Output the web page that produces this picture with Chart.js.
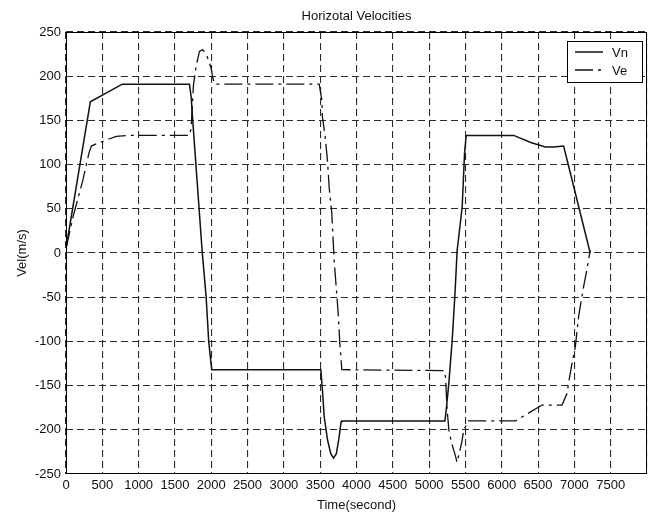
<!DOCTYPE html>
<html>
<head>
<meta charset="utf-8">
<title>Horizotal Velocities</title>
<script src="https://cdn.jsdelivr.net/npm/chart.js@4/dist/chart.umd.min.js"></script>
<style>
  html, body { margin: 0; padding: 0; background: #fff; }
  canvas { display: block; }
</style>
</head>
<body>
<canvas id="vel-chart" width="651" height="519"></canvas>
<script>
'use strict';

// Vn: north velocity (m/s) over time (s)
const vnTime = [0, 335, 775, 1700, 1723, 1745, 1874, 1929, 1965, 2006, 3509, 3531, 3555, 3600, 3646, 3683,
  3723, 3761, 3788, 3798, 5217, 5235, 5272, 5318, 5354, 5386, 5455, 5488, 5510, 6165, 6400, 6600, 6715, 6852, 7218];
const vnVel = [5, 171, 191, 191, 177, 150, 3, -49, -100, -132, -132, -155, -185, -211, -227, -232,
  -227, -208, -191, -190, -190, -178, -147, -98, -49, 3, 52, 113, 133, 133, 125, 120, 120, 121, 0];

// Ve: east velocity (m/s) over time (s)
const veTime = [0, 97, 234, 316, 349, 463, 692, 875, 1700, 1723, 1755, 1791, 1837, 1882, 1937, 1998, 2020, 2043,
  3486, 3523, 3531, 3568, 3600, 3623, 3660, 3692, 3724, 3751, 3770, 3798, 5203, 5226, 5248, 5272, 5306, 5364,
  5385, 5450, 5477, 5540, 6190, 6554, 6830, 6898, 6921, 6958, 7013, 7058, 7127, 7172, 7218];
const veVel = [5, 41, 83, 113, 121, 125, 132, 133, 133, 141, 190, 211, 228, 230, 224, 209, 199, 191,
  191, 173, 154, 132, 105, 75, 45, -8, -42, -72, -102, -132, -133, -140, -178, -200, -214, -230,
  -237, -214, -200, -190, -190, -172, -172, -159, -147, -129, -106, -72, -38, -19, 3];

const xTicks = { min: 0, max: 8000, step: 500 };
const yTicks = { min: -250, max: 250, step: 50 };

const FONT = "'Liberation Sans', Arial, Helvetica, sans-serif";
const INK = '#111';
const VE_DASH = [18, 5, 3, 5];

const toPoints = (xs, ys) => xs.map((x, i) => ({ x, y: ys[i] }));

// ─── Frame, titles and legend drawn on top of the plot ────────────────────────

const framePlugin = {
  id: 'frame',
  afterDraw(chart) {
    const { ctx, chartArea: a } = chart;
    ctx.save();

    // axes box
    ctx.strokeStyle = '#000';
    ctx.lineWidth = 1;
    ctx.setLineDash([]);
    ctx.strokeRect(a.left + 0.5, a.top + 0.5, a.right - a.left - 1, a.bottom - a.top - 1);

    ctx.fillStyle = INK;
    ctx.font = `13px ${FONT}`;
    ctx.textAlign = 'center';
    ctx.textBaseline = 'middle';
    ctx.fillText('Horizotal Velocities', (a.left + a.right) / 2, 16);
    ctx.fillText('Time(second)', (a.left + a.right) / 2, 505);

    ctx.save();
    ctx.translate(22, (a.top + a.bottom) / 2);
    ctx.rotate(-Math.PI / 2);
    ctx.fillText('Vel(m/s)', 0, 0);
    ctx.restore();

    // legend
    const lx = 567, ly = 41, lw = 75, lh = 41;
    ctx.fillStyle = '#fff';
    ctx.fillRect(lx, ly, lw, lh);
    ctx.strokeStyle = '#000';
    ctx.strokeRect(lx + 0.5, ly + 0.5, lw, lh);

    const rows = [
      { label: 'Vn', y: 52, dash: [], width: 1.5 },
      { label: 'Ve', y: 70, dash: VE_DASH, width: 1.3 },
    ];
    rows.forEach((r) => {
      ctx.beginPath();
      ctx.setLineDash(r.dash);
      ctx.lineWidth = r.width;
      ctx.strokeStyle = INK;
      ctx.moveTo(575, r.y);
      ctx.lineTo(603, r.y);
      ctx.stroke();
      ctx.setLineDash([]);
      ctx.fillStyle = INK;
      ctx.textAlign = 'left';
      ctx.fillText(r.label, 612, r.y + 1);
    });

    ctx.restore();
  },
};

const gridStyle = {
  color: '#2b2b2b',
  lineWidth: 1.1,
  drawTicks: false,
};

new Chart(document.getElementById('vel-chart'), {
  type: 'line',
  data: {
    datasets: [
      {
        label: 'Vn',
        data: toPoints(vnTime, vnVel),
        borderColor: INK,
        borderWidth: 1.5,
        pointRadius: 0,
        tension: 0,
      },
      {
        label: 'Ve',
        data: toPoints(veTime, veVel),
        borderColor: INK,
        borderWidth: 1.3,
        borderDash: VE_DASH,
        pointRadius: 0,
        tension: 0,
      },
    ],
  },
  options: {
    responsive: false,
    animation: false,
    layout: { padding: { top: 32, right: 2, left: 0, bottom: 0 } },
    plugins: {
      legend: { display: false },
      title: { display: false },
      tooltip: { enabled: false },
    },
    scales: {
      x: {
        type: 'linear',
        min: xTicks.min,
        max: xTicks.max,
        grid: gridStyle,
        border: { display: false, dash: [7, 4] },
        ticks: {
          stepSize: xTicks.step,
          padding: 4,
          maxRotation: 0,
          autoSkip: false,
          color: INK,
          font: { family: FONT, size: 13 },
          callback: (v) => (v === xTicks.max ? '' : v),
        },
        afterFit: (scale) => { scale.height = 45; },
      },
      y: {
        type: 'linear',
        min: yTicks.min,
        max: yTicks.max,
        grid: gridStyle,
        border: { display: false, dash: [7, 4] },
        ticks: {
          stepSize: yTicks.step,
          padding: 5,
          autoSkip: false,
          color: INK,
          font: { family: FONT, size: 13 },
        },
        afterFit: (scale) => { scale.width = 66; },
      },
    },
  },
  plugins: [framePlugin],
});
</script>
</body>
</html>
